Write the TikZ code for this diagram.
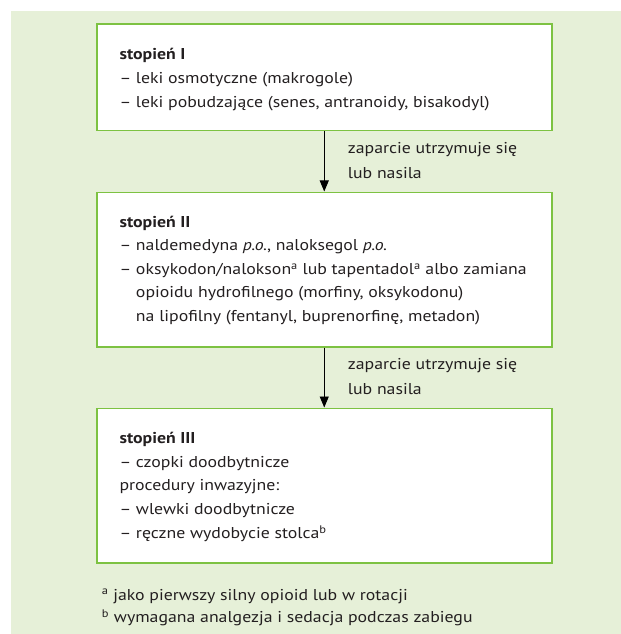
\documentclass[tikz,border=0pt]{standalone}
\usepackage{fontspec}
\usetikzlibrary{arrows.meta}
\newfontfamily\calfont{PT Sans}
\newsavebox\calbox
\sbox\calbox{\calfont\fontsize{15.7bp}{23.7bp}\selectfont – leki pobudzające (senes, antranoidy, bisakodyl)}
\pgfmathsetmacro\stretchratio{371.39/\the\wd\calbox}
\setmainfont{PT Sans}[FakeStretch=\stretchratio]
\definecolor{bggreen}{RGB}{230,240,216}
\definecolor{boxgreen}{RGB}{125,194,66}
\definecolor{txtcol}{RGB}{35,31,32}
\begin{document}
\begin{tikzpicture}[x=1bp,y=-1bp,
  stagebox/.style={draw=boxgreen, line width=1.5bp, fill=white, rectangle,
    inner sep=0pt, minimum width=455bp, anchor=north west},
  bodytext/.style={anchor=base west, inner sep=0pt, align=left, text=txtcol,
    font=\fontsize{15.7bp}{23.7bp}\selectfont},
  arr/.style={draw=black, line width=0.9bp, -{Triangle[length=11bp,width=9bp]}}]
\useasboundingbox (0,0) rectangle (621,634);
\fill[bggreen] (11,11) rectangle (621,634);
% boxes
\node[stagebox, minimum height=106.2bp] (b1) at (96,23.5) {};
\node[stagebox, minimum height=154.5bp] (b2) at (96,191.5) {};
\node[stagebox, minimum height=154.8bp] (b3) at (96,407.5) {};
% box texts (anchored at the baseline of their last line)
\node[bodytext, font=\fontsize{15.7bp}{24bp}\selectfont] (t1) at (119.3,107.3) {\textbf{stopień I}\\
– leki osmotyczne (makrogole)\\
– leki pobudzające (senes, antranoidy, bisakodyl)};
\node[bodytext, font=\fontsize{15.7bp}{23.5bp}\selectfont] (t2) at (119.3,321.3) {\textbf{stopień II}\\
– naldemedyna \textit{p.o.}, naloksegol \textit{p.o.}\\
– oksykodon/nalokson\textsuperscript{a} lub tapentadol\textsuperscript{a} albo zamiana\\
\hphantom{– }opioidu hydrofilnego (morfiny, oksykodonu)\\
\hphantom{– }na lipofilny (fentanyl, buprenorfinę, metadon)};
\node[bodytext] (t3) at (119.3,538.2) {\textbf{stopień III}\\
– czopki doodbytnicze\\
procedury inwazyjne:\\
– wlewki doodbytnicze\\
– ręczne wydobycie stolca\textsuperscript{b}};
% connectors
\draw[arr] (b1.south) -- (b2.north);
\draw[arr] (b2.south) -- (b3.north);
\node[bodytext, font=\fontsize{15.7bp}{24.8bp}\selectfont] (l1) at (347.7,178.2) {zaparcie utrzymuje się\\lub nasila};
\node[bodytext, font=\fontsize{15.7bp}{24.8bp}\selectfont] (l2) at (347.7,394.4) {zaparcie utrzymuje się\\lub nasila};
% footnotes
\node[bodytext, font=\fontsize{15.7bp}{22.7bp}\selectfont] (fn) at (101.7,622.7) {\textsuperscript{a} jako pierwszy silny opioid lub w rotacji\\
\textsuperscript{b} wymagana analgezja i sedacja podczas zabiegu};
\end{tikzpicture}
\end{document}
